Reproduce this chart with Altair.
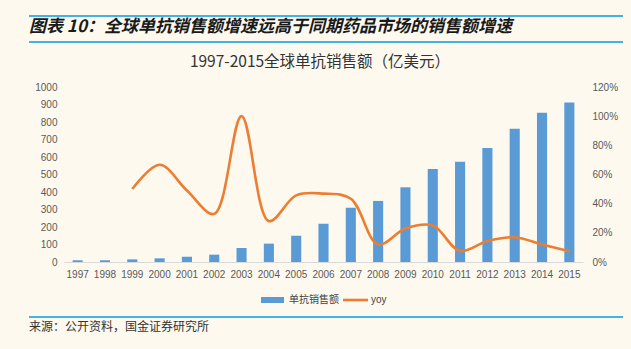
import altair as alt
import pandas as pd

years = [str(y) for y in range(1997, 2016)]
sales = [10, 10, 15, 21, 30, 42, 80, 105, 150, 219, 310, 349, 427, 531, 573, 651, 762, 853, 912]
yoy_years = [str(y) for y in range(1999, 2016)]
yoy = [0.50, 0.667, 0.49, 0.33, 1.00, 0.28, 0.457, 0.469, 0.434, 0.12, 0.23, 0.25, 0.075, 0.144, 0.17, 0.12, 0.073]

bar_df = pd.DataFrame({"year": years, "sales": sales})
line_df = pd.DataFrame({"year": yoy_years, "yoy": yoy})

BLUE = "#5B9BD5"
ORANGE = "#ED7D31"
LINE_BLUE = "#45B2E6"
BG = "#FDF9EF"
CJK = "Noto Sans CJK SC"
NUM = "Liberation Sans"

x_enc = alt.X("year:O", sort=years,
              scale=alt.Scale(domain=years, paddingInner=0.63, paddingOuter=0.315),
              axis=alt.Axis(title=None, labelAngle=0, ticks=False, domainColor="#D9D9D9",
                            labelColor="#595959", labelFont=NUM, labelFontSize=10,
                            labelPadding=7))

bars = alt.Chart(bar_df).mark_bar(color=BLUE).encode(
    x=x_enc,
    y=alt.Y("sales:Q", scale=alt.Scale(domain=[0, 1000]),
            axis=alt.Axis(title=None, values=list(range(0, 1001, 100)), format="d", grid=False,
                          domain=False, ticks=False, labelColor="#595959", labelFont=NUM,
                          labelFontSize=10, labelPadding=7)),
)

line = alt.Chart(line_df).mark_line(color=ORANGE, strokeWidth=2.6, interpolate="catmull-rom").encode(
    x=alt.X("year:O", sort=years),
    y=alt.Y("yoy:Q", scale=alt.Scale(domain=[0, 1.2]),
            axis=alt.Axis(title=None, orient="right", values=[0, 0.2, 0.4, 0.6, 0.8, 1.0, 1.2],
                          format=".0%", grid=False, domain=False, ticks=False,
                          labelColor="#595959", labelFont=NUM, labelFontSize=10,
                          labelPadding=9)),
)

one = alt.Data(values=[{"a": 1}])

def hrule(y, color=LINE_BLUE, x1=-35, x2=559, w=2):
    return alt.Chart(one).mark_rule(color=color, strokeWidth=w).encode(
        x=alt.value(x1), x2=alt.value(x2), y=alt.value(y))

def label(txt, x, y, size, align="left", weight="normal", style="normal", color="#222222", font=CJK):
    return alt.Chart(one).mark_text(text=txt, align=align, baseline="middle", fontSize=size,
                                    fontWeight=weight, fontStyle=style, color=color, font=font).encode(
        x=alt.value(x), y=alt.value(y))

decor = [
    hrule(-71),
    hrule(-45),
    hrule(230),
    label("图表 10：全球单抗销售额增速远高于同期药品市场的销售额增速", -35, -60, 17,
          weight="bold", style="italic", color="#1a1a1a"),
    label("1997-2015全球单抗销售额（亿美元）", 256, -25, 15.5, align="center", color="#333333"),
    label("来源：公开资料，国金证券研究所", -35, 240, 12, color="#333333"),
    alt.Chart(one).mark_rect(color=BLUE).encode(x=alt.value(197), x2=alt.value(220),
                                                y=alt.value(210), y2=alt.value(216)),
    label("单抗销售额", 225, 213, 10, color="#444444"),
    hrule(213, color=ORANGE, x1=279, x2=304, w=2.6),
    label("yoy", 307, 213, 10, color="#444444", font=NUM),
]

chart = alt.layer(bars, line, *decor).resolve_scale(y="independent").properties(
    width=519, height=175,
    padding={"left": 64, "top": 87, "right": 48, "bottom": 87},
    autosize=alt.AutoSizeParams(type="none"),
).configure(background=BG).configure_view(stroke=None)

chart.save("out.html", embed_options={"renderer": "svg", "actions": False})
